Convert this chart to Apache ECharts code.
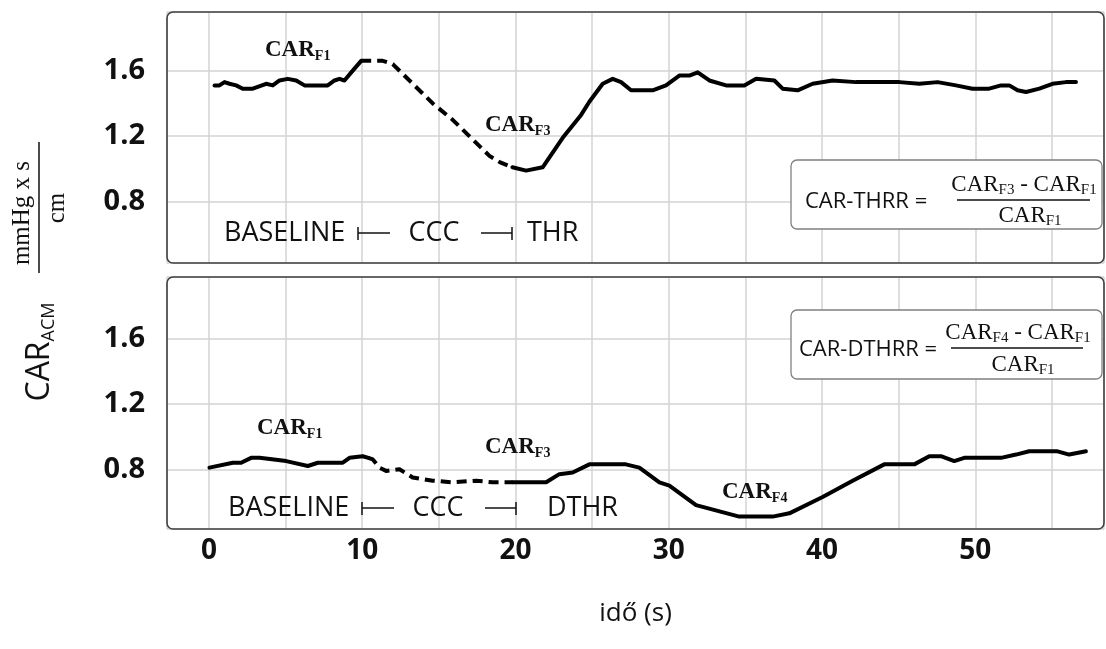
<!DOCTYPE html>
<html><head><meta charset="utf-8">
<script src="https://cdn.jsdelivr.net/npm/echarts@6/dist/echarts.min.js"></script>
<style>html,body{margin:0;padding:0;background:#fff}#c{width:1106px;height:649px}</style>
</head><body><div id="c"></div>
<script>
// ---- data ----
const xTickLabels = [0, 10, 20, 30, 40, 50];
const yTickLabels = [0.8, 1.2, 1.6];

const topSolidA = [[0.36,1.51],[0.68,1.51],[1.01,1.53],[1.34,1.52],[1.77,1.51],[2.2,1.49],[2.86,1.49],[3.73,1.52],[4.16,1.51],[4.6,1.54],[5.14,1.55],[5.69,1.54],[6.23,1.51],[7.75,1.51],[8.19,1.54],[8.51,1.55],[8.84,1.54],[9.38,1.6],[9.93,1.66]];
const topDashed = [[9.93,1.66],[11.34,1.66],[11.99,1.64],[13.08,1.54],[14.6,1.40],[15.9,1.30],[17.21,1.18],[18.3,1.08],[19.0,1.04],[19.8,1.01]];
const topSolidB = [[19.8,1.01],[20.69,0.99],[21.77,1.01],[23.08,1.19],[24.28,1.33],[24.82,1.41],[25.69,1.52],[26.34,1.55],[26.89,1.53],[27.54,1.48],[28.95,1.48],[29.82,1.51],[30.69,1.57],[31.34,1.57],[31.89,1.59],[32.65,1.54],[33.74,1.51],[34.93,1.51],[35.7,1.55],[36.89,1.54],[37.43,1.49],[38.41,1.48],[39.39,1.52],[40.69,1.54],[42.22,1.53],[45.05,1.53],[46.35,1.52],[47.54,1.53],[48.74,1.51],[49.82,1.49],[50.91,1.49],[51.68,1.51],[52.22,1.51],[52.76,1.48],[53.31,1.47],[54.18,1.49],[55.04,1.52],[55.92,1.53],[56.57,1.53]];

const botSolidA = [[0.03,0.81],[1.55,0.84],[2.1,0.84],[2.75,0.87],[3.3,0.87],[5.04,0.85],[6.45,0.82],[7.1,0.84],[8.73,0.84],[9.17,0.87],[10.03,0.88],[10.4,0.87]];
const botDashed = [[10.4,0.87],[10.69,0.86],[11.12,0.81],[11.56,0.79],[12.43,0.80],[13.29,0.75],[14.6,0.73],[15.9,0.72],[17.43,0.73],[18.51,0.72],[19.82,0.72]];
const botSolidB = [[19.82,0.72],[20.25,0.72],[22.0,0.72],[22.86,0.77],[23.73,0.78],[24.82,0.83],[27.2,0.83],[28.08,0.81],[29.39,0.72],[30.04,0.70],[31.78,0.58],[34.6,0.51],[36.78,0.51],[37.87,0.53],[40.04,0.63],[42.0,0.73],[44.06,0.83],[46.02,0.83],[47.0,0.88],[47.76,0.88],[48.63,0.85],[49.28,0.87],[51.68,0.87],[52.66,0.89],[53.52,0.91],[55.37,0.91],[56.13,0.89],[57.22,0.91]];

// ---- layout ----
const L = 167, R = 1104, T1 = 12, B1 = 263, T2 = 277, B2 = 529;
const INK = '#111';
const SANS = '"Open Sans"';
const SERIF = '"Liberation Serif"';

function isTick(v, arr){ return arr.some(t => Math.abs(t - v) < 1e-6); }

function xAxisCfg(idx, showLabels){
  return {
    type:'value', gridIndex: idx, min:-2.74, max:58.4, minInterval:5, maxInterval:5,
    axisLine:{show:false}, axisTick:{show:false},
    splitLine:{show:true, lineStyle:{color:'#d3d3d3', width:1.5}},
    axisLabel:{show: showLabels, showMinLabel:false, showMaxLabel:false, margin:8,
      formatter: v => isTick(v, xTickLabels) ? String(Math.round(v)) : '',
      fontSize:28, fontWeight:'bold', fontFamily:SANS, color:INK},
    name: showLabels ? 'idő (s)' : '', nameLocation:'middle', nameGap:72,
    nameTextStyle:{fontSize:26, fontFamily:SANS, color:INK}
  };
}
function yAxisCfg(idx, mn, mx){
  return {
    type:'value', gridIndex: idx, min:mn, max:mx, minInterval:0.4, maxInterval:0.4,
    axisLine:{show:false}, axisTick:{show:false},
    splitLine:{show:true, lineStyle:{color:'#d3d3d3', width:1.5}},
    axisLabel:{showMinLabel:false, showMaxLabel:false, margin:22,
      formatter: v => isTick(v, yTickLabels) ? v.toFixed(1) : '',
      fontSize:29, fontWeight:'bold', fontFamily:SANS, color:INK}
  };
}
function lineSeries(idx, data, dashed){
  return {
    type:'line', xAxisIndex: idx, yAxisIndex: idx, data: data, showSymbol:false, symbol:'none',
    lineStyle:{color:'#000', width:4, type: dashed ? [10,6] : 'solid', cap: dashed ? 'butt' : 'round', join:'round'},
    z: 5, silent:true
  };
}

const richCAR = {
  m:{font:'bold 23px ' + SERIF, lineHeight:26, fill:INK},
  s:{font:'bold 14px ' + SERIF, verticalAlign:'bottom', lineHeight:16, fill:INK}
};
const richForm = {
  m:{font:'23px ' + SERIF, lineHeight:26, fill:INK},
  s:{font:'15px ' + SERIF, verticalAlign:'bottom', lineHeight:16, fill:INK}
};
function sub(x, y, main, s, rich, align){
  return {type:'text', x:x, y:y, z:100,
    style:{text:'{m|' + main + '}{s|' + s + '}', rich: rich, textAlign: align || 'left', textVerticalAlign:'middle'}};
}
function plain(x, y, text, font, align, rot){
  return {type:'text', x:x, y:y, z:100, rotation: rot || 0,
    style:{text:text, font:font, fill:INK, textAlign: align || 'left', textVerticalAlign:'middle'}};
}
function seg(x1,y1,x2,y2,w,c){
  return {type:'line', z:100, shape:{x1,y1,x2,y2}, style:{stroke:c||INK, lineWidth:w||1.5}};
}
function frame(y, h){
  return {type:'rect', z:90, shape:{x:L, y:y, width:R-L, height:h, r:6}, style:{fill:'none', stroke:'#404040', lineWidth:1.6}};
}
function box(x, y, w, h){
  return {type:'rect', z:95, shape:{x, y, width:w, height:h, r:6}, style:{fill:'#fff', stroke:'#808080', lineWidth:1.3}};
}
function phases(y, xBase, last){
  const f = '27px ' + SANS;
  return [
    plain(xBase, y, 'BASELINE', f, 'left'),
    seg(xBase+134, y-6, xBase+134, y+7, 1.5), seg(xBase+134, y, xBase+166, y, 1.5),
    plain(xBase+210, y, 'CCC', f, 'center'),
    seg(xBase+257, y, xBase+288, y, 1.5), seg(xBase+288, y-6, xBase+288, y+7, 1.5),
    plain(last.x, y, last.t, f, 'left')
  ];
}

const graphics = [
  frame(T1, B1-T1), frame(T2, B2-T2),
  // top annotations
  sub(265, 50, 'CAR', 'F1', richCAR),
  sub(485, 125, 'CAR', 'F3', richCAR),
  ...phases(233, 224, {x:527, t:'THR'}),
  box(791, 160, 311, 69),
  plain(805, 202, 'CAR-THRR =', '22px ' + SANS, 'left'),
  {type:'text', x:1024, y:185, z:100, style:{text:'{m|CAR}{s|F3}{m| - CAR}{s|F1}', rich:richForm, textAlign:'center', textVerticalAlign:'middle'}},
  seg(957, 200, 1090, 200, 1.5),
  sub(1030, 216, 'CAR', 'F1', richForm, 'center'),
  // bottom annotations
  sub(257, 428, 'CAR', 'F1', richCAR),
  sub(485, 447, 'CAR', 'F3', richCAR),
  sub(722, 492, 'CAR', 'F4', richCAR),
  ...phases(508, 228, {x:547, t:'DTHR'}),
  box(791, 310, 311, 69),
  plain(799, 350, 'CAR-DTHRR =', '22px ' + SANS, 'left'),
  {type:'text', x:1018, y:333, z:100, style:{text:'{m|CAR}{s|F4}{m| - CAR}{s|F1}', rich:richForm, textAlign:'center', textVerticalAlign:'middle'}},
  seg(951, 348, 1083, 348, 1.5),
  sub(1023, 365, 'CAR', 'F1', richForm, 'center'),
  // left title
  {type:'text', x:40, y:352, z:100, rotation:Math.PI/2,
    style:{text:'{m|CAR}{s|ACM}', rich:{m:{font:'32px ' + SANS, lineHeight:36, fill:INK}, s:{font:'18px ' + SANS, verticalAlign:'bottom', lineHeight:20, fill:INK}}, textAlign:'center', textVerticalAlign:'middle'}},
  plain(22, 213, 'mmHg x s', '25px ' + SERIF, 'center', Math.PI/2),
  plain(57, 208, 'cm', '25px ' + SERIF, 'center', Math.PI/2),
  seg(39, 142, 39, 273, 1.5)
];

const chart = echarts.init(document.getElementById('c'), null, {renderer:'canvas'});
chart.setOption({
  animation:false,
  backgroundColor:'#fff',
  grid:[{left:L, top:T1, width:R-L, height:B1-T1}, {left:L, top:T2, width:R-L, height:B2-T2}],
  xAxis:[xAxisCfg(0,false), xAxisCfg(1,true)],
  yAxis:[yAxisCfg(0, 0.426, 1.958), yAxisCfg(1, 0.434, 1.978)],
  series:[
    lineSeries(0, topSolidA, false), lineSeries(0, topDashed, true), lineSeries(0, topSolidB, false),
    lineSeries(1, botSolidA, false), lineSeries(1, botDashed, true), lineSeries(1, botSolidB, false)
  ],
  graphic: graphics
});
</script></body></html>
